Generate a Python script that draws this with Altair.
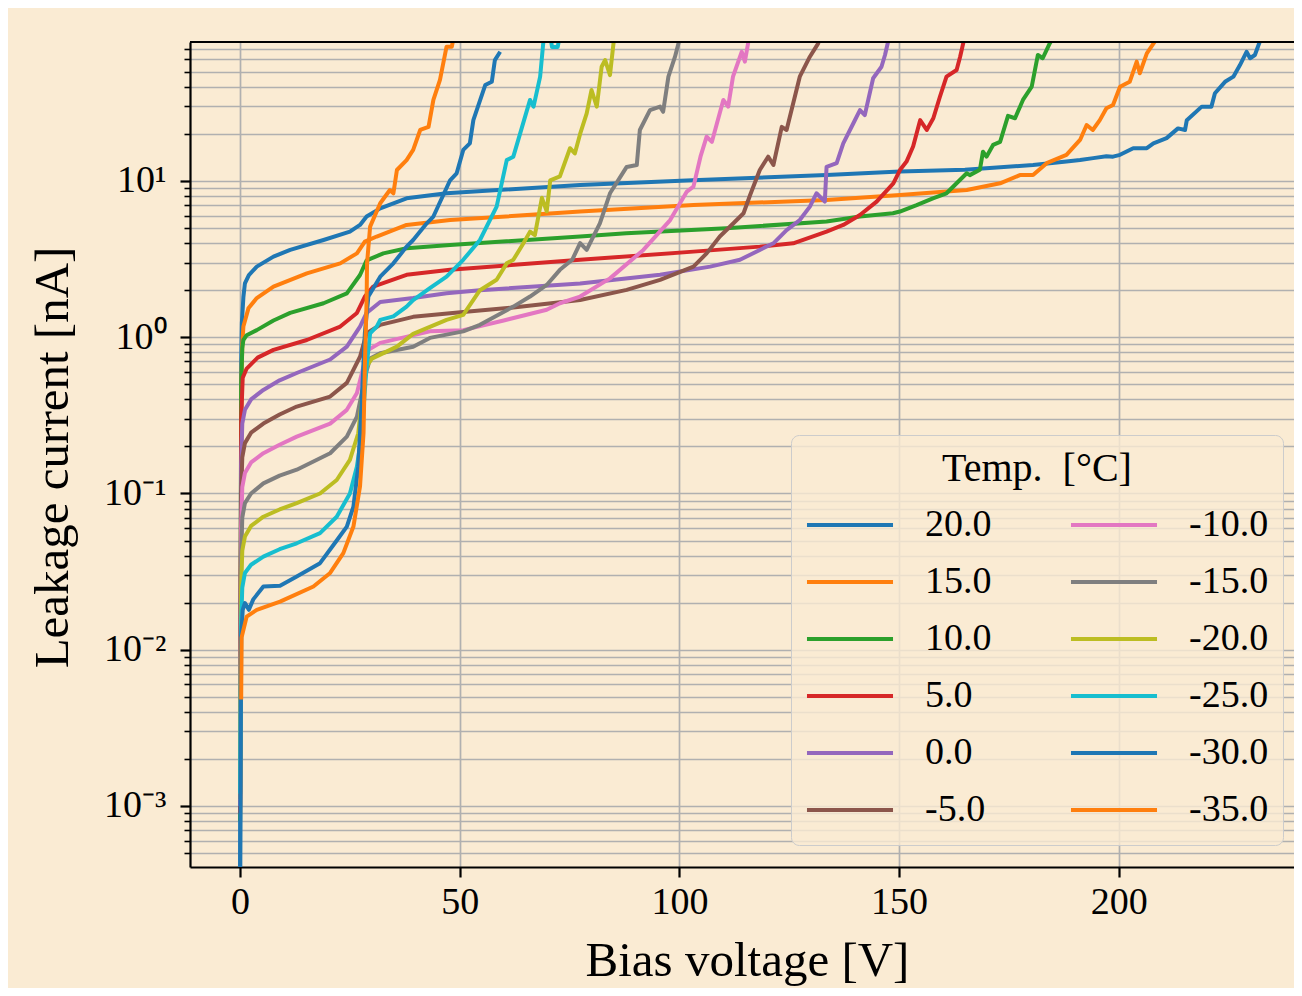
import math
import altair as alt
import pandas as pd

# ---------------- text ----------------
X_TITLE = "Bias voltage [V]"
Y_TITLE = "Leakage current [nA]"
LEGEND_TITLE = "Temp.\u2002[°C]"

TEMPS = ["20.0", "15.0", "10.0", "5.0", "0.0", "-5.0",
         "-10.0", "-15.0", "-20.0", "-25.0", "-30.0", "-35.0"]
COLORS = ["#1f77b4", "#ff7f0e", "#2ca02c", "#d62728", "#9467bd", "#8c564b",
          "#e377c2", "#7f7f7f", "#bcbd22", "#17becf", "#1f77b4", "#ff7f0e"]

X_TICKS = [0, 50, 100, 150, 200]
X_RANGE = [-11.4, 239.9]
Y_RANGE = [4.07e-4, 77.5]
Y_DECADES = [10, 1, 0.1, 0.01, 0.001]
Y_DECADE_LABELS = ["10¹", "10⁰", "10⁻¹", "10⁻²", "10⁻³"]

# ---------------- data (bias voltage [V], leakage current [nA]) ----------------
V_P20 = [0, 0.25, 0.4, 0.75, 1.1, 2.0, 3.8, 7.6, 11.4, 19.0, 25.0, 27.3, 28.8, 31.9, 37.9, 47.0,
         77.4, 103.0, 133.5, 150.2, 165.0, 180.5, 188.1, 191.2, 194.2, 197.2, 198.7, 200.3, 203.3,
         206.4, 207.9, 210.9, 213.5, 215.1, 215.5, 218.9, 221.1, 221.9, 224.2, 226.1, 227.6, 229.1,
         229.9, 231.0, 232.1, 233.5]
I_P20 = [0.0002, 0.7, 1.23, 1.8, 2.21, 2.5, 2.83, 3.28, 3.62, 4.19, 4.74, 5.23, 5.92, 6.68, 7.74, 8.34,
         9.42, 10.1, 10.9, 11.5, 11.8, 12.65, 13.3, 13.6, 14.0, 14.4, 14.3, 14.7, 16.2,
         16.2, 17.4, 18.8, 21.7, 21.2, 24.5, 29.9, 29.9, 36.4, 43.1, 46.5, 55.2, 67.1,
         61.0, 64.0, 77.8, 100]

V_P15 = [0, 0.3, 0.5, 0.75, 1.9, 3.8, 7.6, 15.2, 22.8, 26.6, 28.4, 31.1, 37.9, 47.8, 77.4, 103.2,
         133.5, 150.2, 165.4, 173.0, 177.5, 180.5, 183.6, 188.1, 191.2, 192.7, 194.1, 195.7, 197.2,
         198.7, 200.3, 202.5, 204.1, 204.8, 206.4, 208.2, 209.5]
I_P15 = [0.001, 0.5, 0.9, 1.17, 1.53, 1.78, 2.11, 2.56, 2.97, 3.44, 4.09, 4.41, 5.23, 5.62, 6.37, 7.02,
         7.55, 8.13, 8.75, 9.66, 10.9, 10.9, 13.0, 14.7, 18.3, 22.8, 21.2, 24.5, 29.2,
         30.6, 40.1, 43.1, 58.0, 48.9, 65.6, 77.8, 100]

V_P10 = [0, 0.25, 0.5, 0.75, 1.5, 3.8, 7.6, 11.4, 19.0, 24.3, 27.3, 28.8, 32.6, 37.9, 47.8, 77.4,
         87.9, 110.7, 133.5, 141.1, 148.6, 150.2, 154.0, 157.7, 160.8, 162.7, 165.4, 166.1, 168.4,
         169.1, 169.9, 171.4, 173.0, 174.8, 176.4, 178.2, 180.2, 181.6, 182.7, 184.3, 185.5]
I_P10 = [0.0008, 0.5, 0.85, 0.96, 1.03, 1.11, 1.28, 1.43, 1.65, 1.91, 2.5, 3.1, 3.44, 3.71, 3.89, 4.41,
         4.62, 4.98, 5.5, 5.92, 6.21, 6.37, 7.0, 7.74, 8.34, 9.42, 11.2, 10.9, 11.8,
         15.4, 14.3, 17.0, 17.8, 26.1, 25.2, 33.0, 40.1, 64.0, 61.0, 76.0, 86.0]

V_P5 = [0, 0.25, 0.6, 1.5, 4.0, 7.6, 15.2, 22.8, 26.6, 28.4, 30.3, 37.9, 47.8, 77.4, 103.2, 118.3,
        125.9, 133.5, 137.3, 141.1, 144.9, 148.7, 150.2, 151.7, 153.2, 154.8, 156.3, 157.8, 159.3,
        160.8, 163.1, 163.9, 164.6, 165.5]
I_P5 = [0.0009, 0.3, 0.55, 0.63, 0.74, 0.83, 0.96, 1.17, 1.43, 1.82, 2.11, 2.51, 2.7, 3.13, 3.53, 3.8,
        3.99, 4.74, 5.23, 6.05, 7.38, 9.66, 11.75, 13.3, 16.6, 24.5, 21.2, 25.2, 34.6,
        46.5, 51.3, 62.4, 76.0, 95]

V_0 = [0, 0.25, 0.5, 1.1, 2.5, 5.3, 9.0, 12.9, 20.5, 24.3, 27.3, 28.8, 31.9, 39.4, 47.0, 54.6,
       77.4, 95.6, 107.0, 113.8, 118.3, 121.4, 124.4, 127.4, 129.7, 131.2, 133.1, 133.5, 135.8,
       137.3, 139.6, 141.1, 142.2, 144.1, 146.0, 146.8, 147.5, 148.5]
I_0 = [0.001, 0.15, 0.28, 0.343, 0.4, 0.46, 0.53, 0.59, 0.72, 0.87, 1.17, 1.43, 1.68, 1.78, 1.91, 2.0,
       2.21, 2.51, 2.83, 3.13, 3.62, 3.99, 4.85, 5.62, 6.85, 8.34, 7.38, 12.3, 13.0,
       17.4, 23.4, 28.4, 26.4, 45.4, 53.8, 64.0, 77.8, 100]

V_M5 = [0, 0.25, 0.5, 1.1, 2.5, 5.3, 9.0, 12.9, 20.5, 24.3, 27.3, 28.8, 31.9, 39.4, 50.8, 62.2,
        77.4, 88.0, 95.6, 103.2, 106.2, 109.2, 112.3, 114.6, 116.1, 118.3, 120.2, 121.4, 123.3,
        124.4, 127.4, 129.7, 131.6, 132.5]
I_M5 = [0.0012, 0.1, 0.17, 0.21, 0.245, 0.28, 0.32, 0.36, 0.417, 0.51, 0.75, 1.06, 1.2, 1.35, 1.45, 1.55,
        1.73, 2.01, 2.33, 2.83, 3.44, 4.41, 5.36, 6.21, 8.13, 11.75, 14.3, 12.65, 22.2,
        21.2, 46.5, 62.4, 76.0, 95]

V_M10 = [0, 0.25, 0.5, 1.1, 2.5, 5.3, 9.0, 12.9, 20.5, 24.3, 26.6, 28.1, 29.2, 31.9, 43.2, 50.8,
         60.0, 69.8, 72.8, 77.4, 84.2, 91.8, 97.9, 101.7, 103.2, 104.8, 106.2, 107.4, 110.0,
         111.1, 112.2, 114.2, 114.9, 115.7, 116.5]
I_M10 = [0.0011, 0.06, 0.11, 0.135, 0.158, 0.181, 0.205, 0.231, 0.28, 0.343, 0.44, 0.65, 0.83, 0.92, 1.09, 1.11,
         1.28, 1.5, 1.65, 1.82, 2.38, 3.62, 5.62, 8.55, 9.2, 14.3, 19.2, 17.8, 33.0,
         29.9, 46.5, 67.1, 58.0, 77.8, 100]

V_M15 = [0, 0.25, 0.5, 1.1, 2.5, 5.3, 9.0, 12.9, 20.5, 24.3, 26.6, 27.7, 28.4, 29.6, 31.9, 39.4,
         43.2, 50.8, 54.6, 62.2, 66.0, 69.8, 72.8, 75.6, 77.4, 78.9, 81.9, 84.2, 88.0, 90.3,
         91.0, 93.3, 95.6, 96.3, 97.5, 99.0, 99.8, 100.8]
I_M15 = [0.0011, 0.04, 0.07, 0.0867, 0.1, 0.116, 0.13, 0.142, 0.181, 0.231, 0.31, 0.44, 0.56, 0.73, 0.79, 0.87,
         0.99, 1.09, 1.2, 1.57, 1.82, 2.16, 2.7, 3.13, 4.0, 3.62, 5.36, 8.34, 12.3, 12.65,
         21.2, 28.4, 29.9, 27.7, 46.5, 62.4, 76.0, 100]

V_M20 = [0, 0.25, 0.5, 1.1, 2.5, 5.3, 9.0, 12.9, 18.2, 22.0, 25.0, 26.9, 27.7, 28.8, 30.0, 35.7,
         39.4, 47.0, 50.8, 54.6, 58.4, 60.7, 62.2, 64.5, 66.0, 67.1, 68.7, 69.8, 70.6, 72.8,
         75.1, 76.2, 77.4, 78.9, 80.0, 81.2, 82.3, 83.1, 84.2, 85.0, 86.0]
I_M20 = [0.0012, 0.025, 0.043, 0.053, 0.062, 0.071, 0.079, 0.0867, 0.1, 0.122, 0.164, 0.243, 0.397, 0.65, 0.73, 0.87,
         1.05, 1.29, 1.39, 2.0, 2.33, 2.97, 3.13, 3.99, 4.74, 4.5, 7.8, 6.4, 10.1, 10.7,
         16.2, 15.0, 20.0, 27.1, 38.2, 29.9, 53.8, 59.4, 47.6, 76.0, 100]

V_M25 = [0, 0.25, 0.5, 1.1, 2.5, 5.3, 9.0, 12.9, 18.2, 22.0, 25.0, 26.6, 27.7, 28.8, 29.6, 31.1,
         31.9, 34.9, 37.9, 39.4, 43.2, 47.0, 50.8, 54.6, 58.4, 60.7, 62.2, 66.0, 66.8, 68.3,
         69.0, 70.0, 71.0, 72.3, 73.5]
I_M25 = [0.0012, 0.015, 0.025, 0.031, 0.035, 0.0394, 0.044, 0.048, 0.0557, 0.071, 0.1, 0.149, 0.243, 0.65, 1.06, 1.17,
         1.29, 1.36, 1.57, 1.73, 2.06, 2.44, 3.13, 4.19, 6.85, 13.6, 14.3, 33.0, 29.9, 46.5,
         76.0, 110, 72.0, 72.0, 110]

V_M30 = [0, 0.25, 0.6, 1.1, 2.0, 3.0, 5.3, 9.1, 12.9, 18.2, 22.0, 24.3, 25.8, 26.9, 27.7, 28.4,
         29.2, 31.9, 34.9, 37.9, 39.4, 42.5, 44.0, 47.8, 49.3, 50.8, 52.3, 53.1, 55.8, 57.3,
         58.0, 59.2]
I_M30 = [0.0003, 0.012, 0.018, 0.0199, 0.018, 0.021, 0.0254, 0.0257, 0.0294, 0.0358, 0.05, 0.0614, 0.0824, 0.149, 0.397, 1.06,
         1.82, 2.44, 2.97, 3.8, 4.19, 5.36, 5.92, 10.1, 11.2, 15.8, 17.4, 24.5, 41.1, 43.1,
         59.4, 67.1]

V_M35 = [0.25, 0.35, 1.5, 3.8, 9.1, 16.7, 20.5, 23.5, 25.8, 27.3, 28.1, 28.4, 28.8, 28.9, 29.6, 31.9,
         34.1, 34.9, 35.7, 37.9, 39.4, 41.0, 42.9, 44.0, 45.5, 47.0, 48.2, 48.5, 49.5]
I_M35 = [0.0048, 0.012, 0.0163, 0.018, 0.0203, 0.0254, 0.031, 0.0415, 0.0614, 0.111, 0.243, 0.65, 1.73, 2.97, 5.1, 7.2,
         8.75, 8.34, 11.75, 13.6, 15.8, 21.2, 22.2, 33.0, 44.3, 72.3, 72.3, 80.0, 110]

SERIES = [
    (V_P20, I_P20), (V_P15, I_P15), (V_P10, I_P10), (V_P5, I_P5), (V_0, I_0), (V_M5, I_M5),
    (V_M10, I_M10), (V_M15, I_M15), (V_M20, I_M20), (V_M25, I_M25), (V_M30, I_M30), (V_M35, I_M35),
]

rows = []
for s, (temp, (vs, cs)) in enumerate(zip(TEMPS, SERIES)):
    for k, (v, c) in enumerate(zip(vs, cs)):
        rows.append({"temp": temp, "series": s, "V": v, "I": c, "k": k})
df = pd.DataFrame(rows)

# y tick values (major decades + minor) within range
Y_TICKS = []
for e in range(-4, 2):
    for m in range(1, 10):
        val = float(f"{m}e{e}")
        if Y_RANGE[0] <= val <= Y_RANGE[1]:
            Y_TICKS.append(val)

E = "round(log(datum.value)/LN10)"
IS_MAJOR = f"abs(log(datum.value)/LN10 - {E}) < 0.001"
lab = "''"
for d, t in zip(Y_DECADES, Y_DECADE_LABELS):
    exp = round(math.log10(d))
    lab = f"({E} == {exp} ? '{t}' : {lab})"
Y_LABEL_EXPR = f"({IS_MAJOR}) ? {lab} : ''"

FONT = "Liberation Serif"
BG = "#FAEBD3"
GRID = "#b0b0b0"
W, H = 1104, 825

xaxis = alt.Axis(
    values=X_TICKS, title=X_TITLE, grid=True, gridColor=GRID, gridWidth=1.7,
    tickColor="black", tickSize=10, tickWidth=2.2,
    domainColor="black", domainWidth=2.2,
    labelFont=FONT, labelFontSize=38, labelColor="black", labelPadding=6,
    labelFlush=False, labelOverlap=False,
    titleFont=FONT, titleFontSize=49, titleFontWeight="normal", titleColor="black",
    titleX=557, titleY=108, titleBaseline="alphabetic", titleAlign="center",
)

yaxis = alt.Axis(
    values=Y_TICKS, labelExpr=Y_LABEL_EXPR, title=Y_TITLE, grid=True, gridColor=GRID, gridWidth=1.7,
    tickColor="black",
    tickSize={"condition": {"test": IS_MAJOR, "value": 10}, "value": 6},
    tickWidth={"condition": {"test": IS_MAJOR, "value": 2.2}, "value": 1.6},
    domainColor="black", domainWidth=2.2,
    labelFont=FONT, labelFontSize=38, labelColor="black", labelPadding=14,
    labelFlush=False, labelOverlap=False,
    titleFont=FONT, titleFontSize=49, titleFontWeight="normal", titleColor="black",
    titleX=-123, titleY=415, titleBaseline="alphabetic", titleAlign="center", titleAngle=270,
)

legend = alt.Legend(
    title=LEGEND_TITLE, orient="none", legendX=601, legendY=393, columns=2,
    symbolType="stroke", symbolSize=7400, symbolStrokeWidth=3.8, clipHeight=42,
    labelFont=FONT, labelFontSize=38, labelColor="black", labelOffset=30, labelLimit=300,
    titleFont=FONT, titleFontSize=40, titleFontWeight="normal", titleColor="black",
    titleAnchor="middle", titlePadding=15, titleLimit=600,
    rowPadding=15, columnPadding=77, padding=14,
    fillColor="rgba(250,235,211,0.8)", strokeColor="#cccccc", cornerRadius=8,
)

lines = alt.Chart(df).mark_line(strokeWidth=4, clip=True, strokeJoin="round").encode(
    x=alt.X("V:Q", scale=alt.Scale(domain=X_RANGE, nice=False, zero=False), axis=xaxis),
    y=alt.Y("I:Q", scale=alt.Scale(type="log", domain=Y_RANGE, nice=False), axis=yaxis),
    color=alt.Color("temp:N", scale=alt.Scale(domain=TEMPS, range=COLORS), legend=legend),
    detail="series:N",
    order=alt.Order("k:Q"),
)

top_spine = alt.Chart(pd.DataFrame({"s": [0]})).mark_rule(color="black", strokeWidth=2.2).encode(
    x=alt.value(0), x2=alt.value(W), y=alt.value(0)
)

chart = alt.layer(lines, top_spine).properties(
    width=W, height=H,
    autosize=alt.AutoSizeParams(type="none"),
    padding={"left": 182, "top": 34, "right": 0, "bottom": 121},
).configure(background=BG, font=FONT).configure_view(stroke=None)

chart.save("out.html", embed_options={"renderer": "svg", "actions": False})
